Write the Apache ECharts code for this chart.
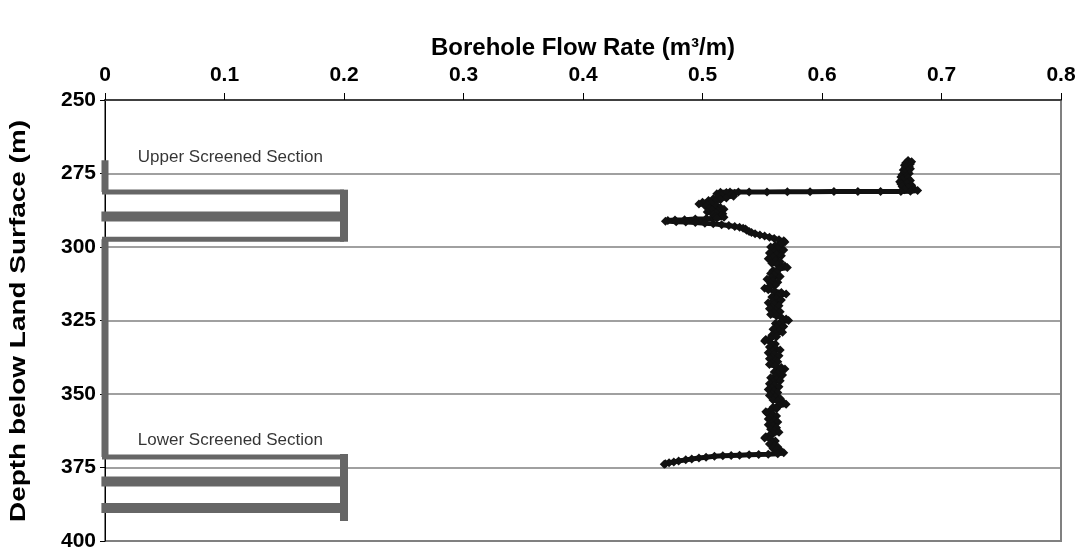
<!DOCTYPE html>
<html>
<head>
<meta charset="utf-8">
<script src="https://cdn.jsdelivr.net/npm/echarts@6/dist/echarts.min.js"></script>
<style>
  html, body { margin: 0; padding: 0; background: #fff; }
  #chart { width: 1085px; height: 556px; }
</style>
</head>
<body>
<div id="chart"></div>
<script>
// Flow-meter log: depth below land surface (m) and borehole flow rate (m3/m)
const flowDepth = [
  270.6, 271.0, 271.4, 271.8, 272.2, 272.6, 273.0, 273.4, 273.8, 274.2,
  274.6, 275.0, 275.4, 275.8, 276.2, 276.6, 277.0, 277.4, 277.8, 278.2,
  278.6, 279.0, 279.4, 279.8, 280.2, 280.5, 280.8, 281.0,
  281.1, 281.1, 281.15, 281.15, 281.2, 281.2, 281.25, 281.25, 281.3, 281.3, 281.35,
  281.5, 281.7, 281.9, 282.1, 282.4, 282.7, 283.0, 283.3, 283.6, 283.9,
  284.2, 284.5, 284.8, 285.1, 285.4, 285.7, 286.0, 286.3, 286.6, 286.9,
  287.2, 287.5, 287.8, 288.1, 288.4, 288.7, 289.0, 289.3, 289.6, 289.9, 290.2,
  290.4, 290.5, 290.7, 290.8, 291.0, 291.2,
  291.4, 291.5, 291.7, 291.9, 292.1, 292.4, 292.7, 293.0, 293.3, 293.6,
  293.9, 294.3, 294.7, 295.1, 295.5, 295.9, 296.3, 296.7, 297.1, 297.5,
  297.9, 298.3, 298.7,
  299.0, 299.5, 300.0, 300.5, 301.0, 301.5, 302.0, 302.5, 303.0, 303.5,
  304.0, 304.5, 305.0, 305.5, 306.0, 306.5, 307.0, 307.5, 308.0, 308.5,
  309.0, 309.5, 310.0, 310.5, 311.0, 311.5, 312.0, 312.5, 313.0, 313.5,
  314.0, 314.5, 315.0, 315.5, 316.0, 316.5, 317.0, 317.5, 318.0, 318.5,
  319.0, 319.5, 320.0, 320.5, 321.0, 321.5, 322.0, 322.5, 323.0, 323.5,
  324.0, 324.5, 325.0, 325.5, 326.0, 326.5, 327.0, 327.5, 328.0, 328.5,
  329.0, 329.5, 330.0, 330.5, 331.0, 331.5, 332.0, 332.5, 333.0, 333.5,
  334.0, 334.5, 335.0, 335.5, 336.0, 336.5, 337.0, 337.5, 338.0, 338.5,
  339.0, 339.5, 340.0, 340.5, 341.0, 341.5, 342.0, 342.5, 343.0, 343.5,
  344.0, 344.5, 345.0, 345.5, 346.0, 346.5, 347.0, 347.5, 348.0, 348.5,
  349.0, 349.5, 350.0, 350.5, 351.0, 351.5, 352.0, 352.5, 353.0, 353.5,
  354.0, 354.5, 355.0, 355.5, 356.0, 356.5, 357.0, 357.5, 358.0, 358.5,
  359.0, 359.5, 360.0, 360.5, 361.0, 361.5, 362.0, 362.5, 363.0, 363.5,
  364.0, 364.5, 365.0, 365.5, 366.0, 366.5, 367.0, 367.5, 368.0, 368.5,
  369.0, 369.5, 370.0, 370.3,
  370.5, 370.6, 370.7, 370.8, 370.9, 371.0, 371.2, 371.5, 371.8, 372.1,
  372.4, 372.8, 373.1, 373.4, 373.7, 373.9
];
const flowRate = [
  0.672, 0.675, 0.670, 0.674, 0.669, 0.673, 0.670, 0.674, 0.668, 0.672,
  0.669, 0.673, 0.667, 0.671, 0.666, 0.672, 0.667, 0.674, 0.665, 0.671,
  0.666, 0.675, 0.667, 0.672, 0.677, 0.669, 0.680, 0.674,
  0.666, 0.649, 0.630, 0.610, 0.590, 0.571, 0.554, 0.539, 0.530, 0.523, 0.515,
  0.520, 0.527, 0.512, 0.524, 0.516, 0.526, 0.513, 0.520, 0.509, 0.515,
  0.505, 0.511, 0.500, 0.507, 0.497, 0.504, 0.512, 0.503, 0.515, 0.506,
  0.518, 0.508, 0.513, 0.504, 0.511, 0.517, 0.509, 0.516, 0.511, 0.518, 0.512,
  0.503, 0.494, 0.485, 0.477, 0.471, 0.469,
  0.478, 0.486, 0.494, 0.502, 0.509, 0.516, 0.522, 0.527, 0.531, 0.534,
  0.536, 0.537, 0.539, 0.541, 0.544, 0.548, 0.552, 0.556, 0.560, 0.564,
  0.568, 0.569, 0.566,
  0.566, 0.561, 0.557, 0.563, 0.568, 0.560, 0.556, 0.562, 0.566, 0.559,
  0.555, 0.561, 0.565, 0.558, 0.563, 0.569, 0.571, 0.564, 0.559, 0.562,
  0.557, 0.560, 0.565, 0.558, 0.554, 0.559, 0.563, 0.557, 0.561, 0.556,
  0.552, 0.555, 0.560, 0.566, 0.570, 0.563, 0.558, 0.562, 0.566, 0.559,
  0.555, 0.560, 0.564, 0.558, 0.556, 0.561, 0.565, 0.560, 0.557, 0.562,
  0.566, 0.570, 0.572, 0.566, 0.561, 0.564, 0.568, 0.562, 0.559, 0.564,
  0.567, 0.561, 0.558, 0.562, 0.557, 0.553, 0.552, 0.557, 0.561, 0.558,
  0.556, 0.561, 0.565, 0.559, 0.555, 0.560, 0.564, 0.558, 0.556, 0.561,
  0.563, 0.558, 0.556, 0.561, 0.566, 0.569, 0.565, 0.560, 0.563, 0.567,
  0.561, 0.557, 0.562, 0.565, 0.559, 0.556, 0.560, 0.564, 0.558, 0.555,
  0.560, 0.563, 0.558, 0.556, 0.561, 0.565, 0.559, 0.563, 0.568, 0.570,
  0.564, 0.559, 0.562, 0.557, 0.553, 0.554, 0.559, 0.562, 0.557, 0.555,
  0.560, 0.563, 0.558, 0.555, 0.559, 0.562, 0.557, 0.560, 0.564, 0.559,
  0.556, 0.553, 0.552, 0.557, 0.561, 0.558, 0.556, 0.560, 0.563, 0.559,
  0.562, 0.566, 0.568, 0.563,
  0.555, 0.547, 0.539, 0.531, 0.524, 0.517, 0.510, 0.503, 0.497, 0.491,
  0.486, 0.480, 0.476, 0.472, 0.469, 0.468
];

// Well construction sketch (depths in m, width in flow-rate units)
const upperCasing = [270.5, 281.3];
const blankCasing = [297.4, 371.4];
const upperScreenBars = [281.3, 289.6, 297.4];
const lowerScreenBars = [371.4, 379.8, 388.8];
const upperScreenSpan = [280.5, 298.2];
const lowerScreenSpan = [370.4, 393.2];
const screenWidth = 0.2;

// Annotation anchors: [flow rate, depth, text]
const annotations = [
  [0.027, 269.4, 'Upper Screened Section'],
  [0.027, 365.9, 'Lower Screened Section']
];

const xTitle = 'Borehole Flow Rate (m³/m)';
const yTitle = 'Depth below Land Surface (m)';

const FONT = "'Liberation Sans', Arial, Helvetica, sans-serif";
const WELL = '#666666';

function seg(points, width) {
  return {
    type: 'line', data: points, symbol: 'none', clip: false, silent: true,
    z: 2, animation: false,
    lineStyle: { color: WELL, width: width, cap: 'butt' }
  };
}

const series = [];
// casing runs along the axis
series.push(seg([[0, upperCasing[0]], [0, upperCasing[1]]], 7));
series.push(seg([[0, blankCasing[0]], [0, blankCasing[1]]], 7));
// screen slots
const barWidthsUpper = [5, 10, 5];
const barWidthsLower = [5, 10, 10];
upperScreenBars.forEach((d, i) => series.push(seg([[-0.003, d], [screenWidth, d]], barWidthsUpper[i])));
lowerScreenBars.forEach((d, i) => series.push(seg([[-0.003, d], [screenWidth, d]], barWidthsLower[i])));
// screen end caps
series.push(seg([[screenWidth, upperScreenSpan[0]], [screenWidth, upperScreenSpan[1]]], 8));
series.push(seg([[screenWidth, lowerScreenSpan[0]], [screenWidth, lowerScreenSpan[1]]], 8));

// flow-meter trace
series.push({
  type: 'line',
  data: flowDepth.map((d, i) => [flowRate[i], d]),
  symbol: 'diamond', symbolSize: 9,
  itemStyle: { color: '#111111' },
  lineStyle: { color: '#111111', width: 5 },
  z: 5, animation: false
});

// section labels
series.push({
  type: 'scatter',
  data: annotations.map(a => ({ value: [a[0], a[1]], name: a[2] })),
  symbolSize: 1,
  itemStyle: { color: 'rgba(0,0,0,0)' },
  label: {
    show: true, position: 'right', distance: 0,
    formatter: p => p.name,
    fontFamily: FONT, fontSize: 17, color: '#000'
  },
  silent: true, z: 6, animation: false
});

const chart = echarts.init(document.getElementById('chart'), null, { renderer: 'canvas' });
chart.setOption({
  backgroundColor: '#ffffff',
  animation: false,
  grid: {
    left: 105, right: 24, top: 100, bottom: 15,
    outerBoundsMode: 'none', containLabel: false,
    show: true, borderColor: '#808080', borderWidth: 2, backgroundColor: 'transparent'
  },
  // vertical axis title, drawn a little elongated along its reading direction
  graphic: [{
    type: 'text', x: 19, y: 321, rotation: Math.PI / 2, scaleX: 1.27, scaleY: 1,
    style: {
      text: yTitle, fontFamily: FONT, fontWeight: 'bold', fontSize: 22,
      fill: '#000', align: 'center', verticalAlign: 'middle'
    },
    silent: true
  }],
  xAxis: {
    type: 'value', position: 'top', min: 0, max: 0.8, interval: 0.1,
    name: xTitle,
    nameLocation: 'middle', nameGap: 37,
    nameTextStyle: { fontFamily: FONT, fontWeight: 'bold', fontSize: 24, color: '#000' },
    axisLine: { show: true, lineStyle: { color: '#404040', width: 2 } },
    axisTick: { show: true, inside: false, length: 7, lineStyle: { color: '#000', width: 1 } },
    axisLabel: {
      fontFamily: FONT, fontWeight: 'bold', fontSize: 21, color: '#000', margin: 14,
      formatter: v => (Math.round(v * 10) / 10).toString()
    },
    splitLine: { show: false }
  },
  yAxis: {
    type: 'value', inverse: true, min: 250, max: 400, interval: 25,
    axisLine: { show: true, lineStyle: { color: '#000', width: 1 } },
    axisTick: { show: true, inside: false, length: 5, lineStyle: { color: '#000' } },
    axisLabel: { fontFamily: FONT, fontWeight: 'bold', fontSize: 21, color: '#000', margin: 9 },
    splitLine: { show: true, lineStyle: { color: '#808080', width: 1.5 } }
  },
  series: series
});
</script>
</body>
</html>
